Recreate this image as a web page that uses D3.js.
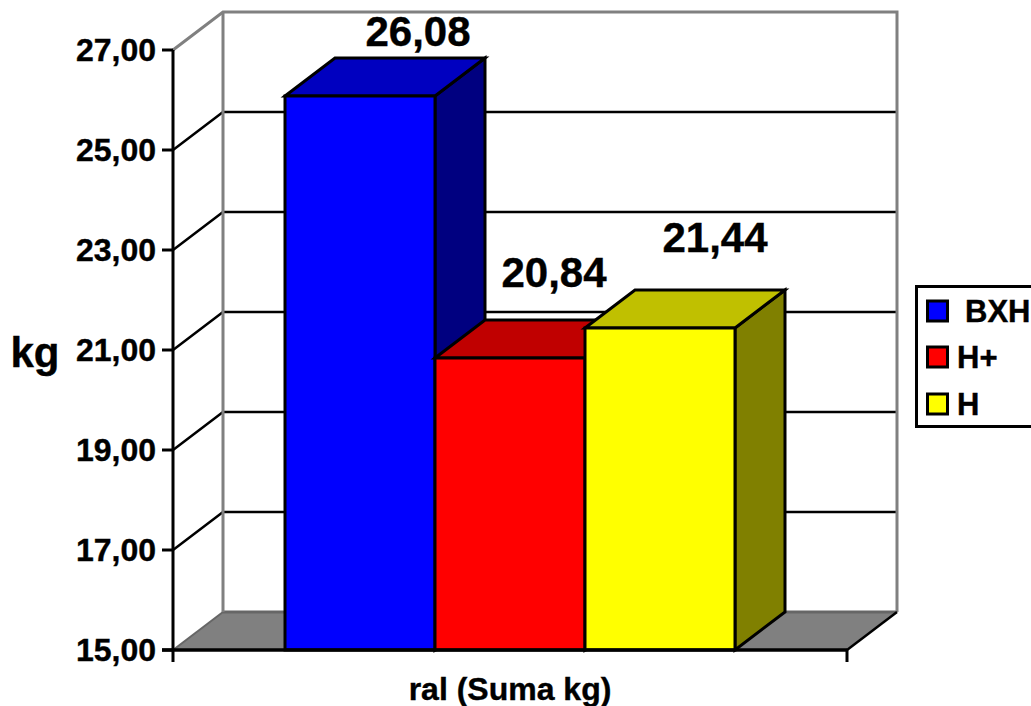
<!DOCTYPE html>
<html>
<head>
<meta charset="utf-8">
<script src="https://cdn.jsdelivr.net/npm/d3@7/dist/d3.min.js"></script>
<style>
  html, body { margin: 0; padding: 0; background: #fff; overflow: hidden; }
  svg { display: block; }
  text { font-family: "Liberation Sans", Arial, sans-serif; font-weight: bold; fill: #000; stroke: #000; stroke-width: 0.4px; }
</style>
</head>
<body>
<svg id="chart" width="1031" height="706"></svg>
<script>
// Bar values and labels
const seriesNames = ["BXH", "H+", "H"];
const seriesValues = [26.08, 20.84, 21.44];
const seriesLabels = ["26,08", "20,84", "21,44"];
const frontColors = ["#0000ff", "#ff0000", "#ffff00"];
const topColors = ["#0000c0", "#c00000", "#c0c000"];
const sideColors = ["#000080", "#800000", "#808000"];
const tickValues = [15, 17, 19, 21, 23, 25, 27];
const categoryLabel = "ral (Suma kg)";
const axisTitle = "kg";

const svg = d3.select("#chart");
const depthX = 50, depthY = -38;
const frontLeft = 173, frontRight = 847;

const y = d3.scaleLinear().domain([15, 27]).range([650, 50]);
const x = d3.scaleBand().domain(seriesNames).range([285, 735]).padding(0);
const fmt = v => v.toFixed(2).replace(".", ",");
const poly = pts => pts.map(p => p.join(",")).join(" ");

// Floor and back walls
const walls = svg.append("g");
walls.append("polygon")
  .attr("points", poly([[frontLeft, y(15)], [frontLeft + depthX, y(15) + depthY],
    [frontRight + depthX, y(15) + depthY], [frontRight, y(15)]]))
  .attr("fill", "#808080");
walls.append("line")
  .attr("x1", frontLeft + depthX).attr("x2", frontRight + depthX)
  .attr("y1", y(15) + depthY).attr("y2", y(15) + depthY)
  .attr("stroke", "#666").attr("stroke-width", 3);
walls.append("line")
  .attr("x1", frontLeft).attr("y1", y(15))
  .attr("x2", frontLeft + depthX).attr("y2", y(15) + depthY)
  .attr("stroke", "#666").attr("stroke-width", 2);

// Gridlines run along the side wall and across the back wall
const inner = tickValues.filter(t => t > 15 && t < 27);
const grid = svg.append("g").attr("fill", "none").attr("stroke", "#000").attr("stroke-width", 2.5);
grid.selectAll("polyline").data(inner).join("polyline")
  .attr("points", d => poly([[frontLeft, y(d)], [frontLeft + depthX, y(d) + depthY],
    [frontRight + depthX, y(d) + depthY]]));

// Grey wall outline
svg.append("polyline")
  .attr("fill", "none").attr("stroke", "#808080").attr("stroke-width", 3)
  .attr("points", poly([[frontLeft, y(27)], [frontLeft + depthX, y(27) + depthY],
    [frontRight + depthX, y(27) + depthY], [frontRight + depthX, y(15) + depthY]]));
svg.append("line")
  .attr("x1", frontLeft + depthX).attr("x2", frontLeft + depthX)
  .attr("y1", y(27) + depthY).attr("y2", y(15) + depthY)
  .attr("stroke", "#808080").attr("stroke-width", 3);
svg.append("line")
  .attr("x1", frontRight + depthX).attr("y1", y(15) + depthY)
  .attr("x2", frontRight).attr("y2", y(15))
  .attr("stroke", "#000").attr("stroke-width", 2.5);

// Extruded bars, drawn left to right so later bars cover earlier sides
const bars = svg.append("g").attr("stroke", "#000").attr("stroke-width", 3).attr("stroke-linejoin", "miter");
seriesNames.forEach((name, i) => {
  const x0 = x(name), x1 = x0 + x.bandwidth();
  const top = y(seriesValues[i]), base = y(15);
  const g = bars.append("g");
  g.append("polygon").attr("fill", sideColors[i])
    .attr("points", poly([[x1, top], [x1 + depthX, top + depthY], [x1 + depthX, base + depthY], [x1, base]]));
  g.append("polygon").attr("fill", topColors[i])
    .attr("points", poly([[x0, top], [x0 + depthX, top + depthY], [x1 + depthX, top + depthY], [x1, top]]));
  g.append("rect").attr("fill", frontColors[i])
    .attr("x", x0).attr("y", top).attr("width", x1 - x0).attr("height", base - top);
});

// Axes
const axisG = svg.append("g").attr("stroke", "#000").attr("fill", "none");
axisG.append("line").attr("x1", frontLeft).attr("x2", frontLeft)
  .attr("y1", y(27)).attr("y2", y(15) + 12).attr("stroke-width", 3);
axisG.append("line").attr("x1", frontLeft - 11).attr("x2", frontRight)
  .attr("y1", y(15)).attr("y2", y(15)).attr("stroke-width", 3.5);
axisG.append("line").attr("x1", frontRight).attr("x2", frontRight)
  .attr("y1", y(15)).attr("y2", y(15) + 12).attr("stroke-width", 3);
axisG.selectAll(".tick").data(tickValues).join("line").attr("class", "tick")
  .attr("x1", frontLeft - 11).attr("x2", frontLeft)
  .attr("y1", d => y(d)).attr("y2", d => y(d)).attr("stroke-width", 3);

svg.append("g").selectAll("text").data(tickValues).join("text")
  .attr("x", 156).attr("y", d => y(d) + 11)
  .attr("text-anchor", "end").attr("font-size", 32)
  .text(fmt);

// Value labels above each bar
const labelPos = [[418, 46], [554, 287], [715, 252]];
svg.append("g").selectAll("text").data(seriesLabels).join("text")
  .attr("x", (d, i) => labelPos[i][0]).attr("y", (d, i) => labelPos[i][1])
  .attr("text-anchor", "middle").attr("font-size", 42)
  .text(d => d);

// Axis titles
svg.append("text").attr("x", 35).attr("y", 367).attr("text-anchor", "middle")
  .attr("font-size", 42).text(axisTitle);
svg.append("text").attr("x", 510).attr("y", 700).attr("text-anchor", "middle")
  .attr("font-size", 32).text(categoryLabel);

// Legend
const legend = svg.append("g");
legend.append("rect").attr("x", 916.5).attr("y", 286.5).attr("width", 130).attr("height", 140)
  .attr("fill", "#fff").attr("stroke", "#000").attr("stroke-width", 3);
const rowY = [301, 347, 394];
const legendTextX = [965, 957, 957];
seriesNames.forEach((name, i) => {
  legend.append("rect").attr("x", 927.5).attr("y", rowY[i]).attr("width", 20).attr("height", 20)
    .attr("fill", frontColors[i]).attr("stroke", "#000").attr("stroke-width", 3);
  legend.append("text").attr("x", legendTextX[i]).attr("y", rowY[i] + 21)
    .attr("font-size", 31).text(name);
});
</script>
</body>
</html>
